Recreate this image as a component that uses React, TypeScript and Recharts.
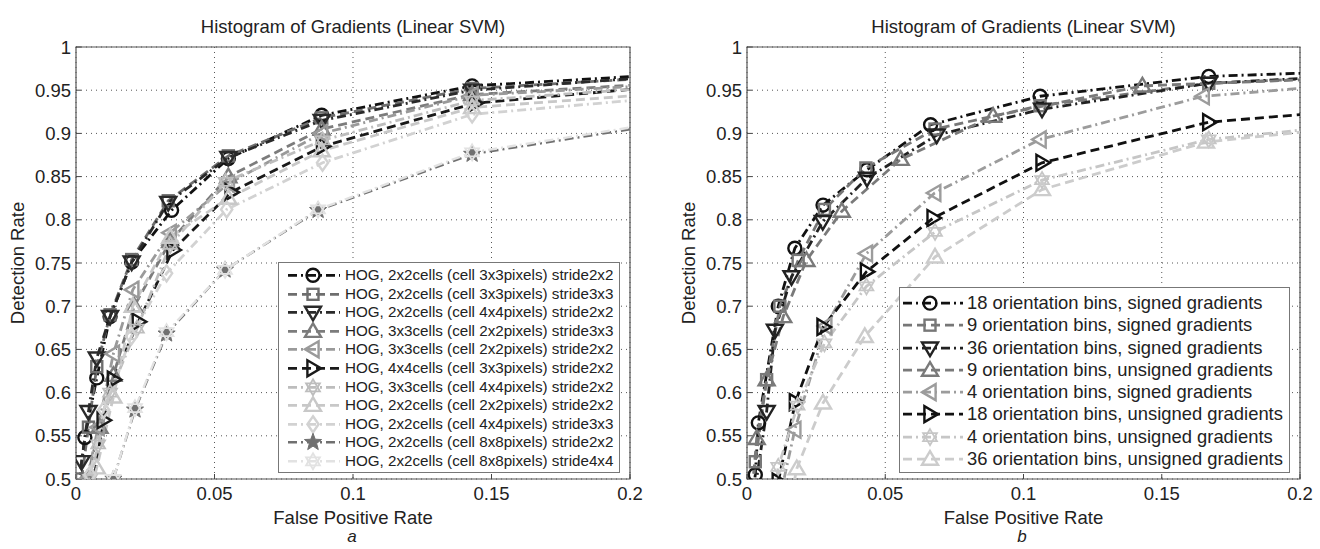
import React from 'react';
import { LineChart, Line, XAxis, YAxis, CartesianGrid, ReferenceArea, Legend } from 'recharts';

const FONT = '"Liberation Sans", Arial, Helvetica, sans-serif';

// ---- axes ----
const xTicks = [0, 0.05, 0.1, 0.15, 0.2];
const yTicks = [0.5, 0.55, 0.6, 0.65, 0.7, 0.75, 0.8, 0.85, 0.9, 0.95, 1];
const chartTitle = 'Histogram of Gradients (Linear SVM)';
const xTitle = 'False Positive Rate';
const yTitle = 'Detection Rate';

// ---- panel a: series names ----
const leftNames = [
  'HOG, 2x2cells (cell 3x3pixels) stride2x2',
  'HOG, 2x2cells (cell 3x3pixels) stride3x3',
  'HOG, 2x2cells (cell 4x4pixels) stride2x2',
  'HOG, 3x3cells (cell 2x2pixels) stride3x3',
  'HOG, 3x3cells (cell 2x2pixels) stride2x2',
  'HOG, 4x4cells (cell 3x3pixels) stride2x2',
  'HOG, 3x3cells (cell 4x4pixels) stride2x2',
  'HOG, 2x2cells (cell 2x2pixels) stride2x2',
  'HOG, 2x2cells (cell 4x4pixels) stride3x3',
  'HOG, 2x2cells (cell 8x8pixels) stride2x2',
  'HOG, 2x2cells (cell 8x8pixels) stride4x4',
];

// ---- panel a: values (false positive rate / detection rate) ----
const a1Fpr = [0.001, 0.0032, 0.0075, 0.0123, 0.0201, 0.0345, 0.055, 0.0887, 0.143, 0.25];
const a1Det = [0.49, 0.548, 0.617, 0.688, 0.751, 0.811, 0.871, 0.921, 0.955, 0.975];
const a2Fpr = [0.002, 0.0045, 0.0075, 0.0123, 0.0201, 0.0333, 0.055, 0.0887, 0.143, 0.25];
const a2Det = [0.5, 0.56, 0.63, 0.69, 0.754, 0.822, 0.874, 0.918, 0.952, 0.972];
const a3Fpr = [0.0015, 0.002, 0.0045, 0.0075, 0.0123, 0.0201, 0.0333, 0.055, 0.0887, 0.143, 0.25];
const a3Det = [0.49, 0.52, 0.578, 0.64, 0.688, 0.751, 0.82, 0.872, 0.915, 0.95, 0.975];
const a4Fpr = [0.004, 0.0085, 0.0135, 0.021, 0.034, 0.055, 0.0887, 0.143, 0.25];
const a4Det = [0.5, 0.56, 0.62, 0.7, 0.775, 0.85, 0.905, 0.945, 0.965];
const a5Fpr = [0.004, 0.008, 0.0135, 0.0205, 0.034, 0.055, 0.0887, 0.143, 0.25];
const a5Det = [0.5, 0.56, 0.645, 0.719, 0.785, 0.842, 0.9, 0.944, 0.963];
const a6Fpr = [0.006, 0.0098, 0.0135, 0.0225, 0.035, 0.056, 0.089, 0.144, 0.25];
const a6Det = [0.49, 0.568, 0.615, 0.682, 0.765, 0.832, 0.885, 0.935, 0.965];
const a7Fpr = [0.005, 0.008, 0.0123, 0.022, 0.034, 0.054, 0.089, 0.143, 0.25];
const a7Det = [0.5, 0.54, 0.6, 0.674, 0.771, 0.844, 0.892, 0.938, 0.962];
const a8Fpr = [0.0055, 0.0075, 0.0135, 0.0205, 0.034, 0.055, 0.0887, 0.143, 0.25];
const a8Det = [0.49, 0.513, 0.595, 0.7, 0.78, 0.825, 0.88, 0.93, 0.955];
const a9Fpr = [0.004, 0.005, 0.01, 0.02, 0.0327, 0.0544, 0.089, 0.143, 0.25];
const a9Det = [0.49, 0.505, 0.58, 0.665, 0.738, 0.812, 0.866, 0.922, 0.952];
const a10Fpr = [0.0125, 0.0135, 0.0213, 0.0327, 0.0538, 0.0874, 0.143, 0.25];
const a10Det = [0.48, 0.5, 0.58, 0.668, 0.742, 0.811, 0.876, 0.93];
const a11Fpr = [0.012, 0.0135, 0.0213, 0.0327, 0.0538, 0.0874, 0.143, 0.25];
const a11Det = [0.48, 0.5, 0.582, 0.67, 0.742, 0.812, 0.878, 0.932];

// ---- panel b: series names ----
const rightNames = [
  '18 orientation bins, signed gradients',
  '9 orientation bins, signed gradients',
  '36 orientation bins, signed gradients',
  '9 orientation bins, unsigned gradients',
  '4 orientation bins, signed gradients',
  '18 orientation bins, unsigned gradients',
  '4 orientation bins, unsigned gradients',
  '36 orientation bins, unsigned gradients',
];

// ---- panel b: values ----
const b1Fpr = [0.002, 0.003, 0.0041, 0.0113, 0.0173, 0.0275, 0.0434, 0.0664, 0.106, 0.167, 0.25];
const b1Det = [0.48, 0.505, 0.565, 0.7, 0.767, 0.817, 0.858, 0.91, 0.943, 0.966, 0.975];
const b2Fpr = [0.002, 0.003, 0.0071, 0.0119, 0.0185, 0.028, 0.043, 0.068, 0.106, 0.167, 0.25];
const b2Det = [0.49, 0.52, 0.615, 0.7, 0.753, 0.812, 0.86, 0.905, 0.932, 0.958, 0.97];
const b3Fpr = [0.003, 0.0071, 0.0101, 0.0161, 0.0274, 0.0434, 0.0686, 0.1067, 0.167, 0.25];
const b3Det = [0.49, 0.578, 0.672, 0.734, 0.798, 0.848, 0.898, 0.928, 0.958, 0.972];
const b4Fpr = [0.002, 0.0035, 0.0071, 0.0131, 0.0215, 0.0343, 0.0556, 0.089, 0.143, 0.25];
const b4Det = [0.49, 0.547, 0.615, 0.688, 0.753, 0.81, 0.87, 0.92, 0.955, 0.968];
const b5Fpr = [0.012, 0.0173, 0.0285, 0.0432, 0.0679, 0.106, 0.165, 0.25];
const b5Det = [0.48, 0.557, 0.677, 0.761, 0.831, 0.893, 0.943, 0.965];
const b6Fpr = [0.011, 0.0113, 0.0175, 0.0275, 0.0432, 0.0673, 0.1067, 0.167, 0.25];
const b6Det = [0.48, 0.497, 0.589, 0.676, 0.74, 0.802, 0.866, 0.913, 0.935];
const b7Fpr = [0.01, 0.0113, 0.0183, 0.028, 0.0432, 0.068, 0.1067, 0.167, 0.25];
const b7Det = [0.48, 0.514, 0.585, 0.657, 0.723, 0.786, 0.846, 0.893, 0.92];
const b8Fpr = [0.016, 0.018, 0.0275, 0.0426, 0.068, 0.1067, 0.166, 0.25];
const b8Det = [0.48, 0.512, 0.588, 0.665, 0.757, 0.835, 0.89, 0.918];

const toPoints = (xs: number[], ys: number[]) => xs.map((x, i) => ({ x, y: ys[i] }));

const leftData = [
  toPoints(a1Fpr, a1Det), toPoints(a2Fpr, a2Det), toPoints(a3Fpr, a3Det), toPoints(a4Fpr, a4Det),
  toPoints(a5Fpr, a5Det), toPoints(a6Fpr, a6Det), toPoints(a7Fpr, a7Det), toPoints(a8Fpr, a8Det),
  toPoints(a9Fpr, a9Det), toPoints(a10Fpr, a10Det), toPoints(a11Fpr, a11Det),
];
const rightData = [
  toPoints(b1Fpr, b1Det), toPoints(b2Fpr, b2Det), toPoints(b3Fpr, b3Det), toPoints(b4Fpr, b4Det),
  toPoints(b5Fpr, b5Det), toPoints(b6Fpr, b6Det), toPoints(b7Fpr, b7Det), toPoints(b8Fpr, b8Det),
];

// ---- styles ----
const DASH = '9 5';
const DASHDOT = '9 4 2 4';
type Style = { color: string; dash: string; shape: string; width: number };
const leftStyles: Style[] = [
  { color: '#111111', dash: DASHDOT, shape: 'circle', width: 2.8 },
  { color: '#6e6e6e', dash: DASH, shape: 'square', width: 2.8 },
  { color: '#2a2a2a', dash: DASHDOT, shape: 'down', width: 2.8 },
  { color: '#7c7c7c', dash: DASH, shape: 'up', width: 2.8 },
  { color: '#9a9a9a', dash: DASHDOT, shape: 'left', width: 2.8 },
  { color: '#1a1a1a', dash: DASH, shape: 'right', width: 2.8 },
  { color: '#bdbdbd', dash: DASHDOT, shape: 'hexagram', width: 2.8 },
  { color: '#c8c8c8', dash: DASH, shape: 'up', width: 2.8 },
  { color: '#d2d2d2', dash: DASHDOT, shape: 'diamond', width: 2.8 },
  { color: '#707070', dash: DASHDOT, shape: 'star', width: 2.4 },
  { color: '#e2e2e2', dash: DASHDOT, shape: 'hexagram', width: 2.4 },
];
const rightStyles: Style[] = [
  { color: '#111111', dash: DASHDOT, shape: 'circle', width: 2.8 },
  { color: '#777777', dash: DASH, shape: 'square', width: 2.8 },
  { color: '#222222', dash: DASHDOT, shape: 'down', width: 2.8 },
  { color: '#7a7a7a', dash: DASH, shape: 'up', width: 2.8 },
  { color: '#9c9c9c', dash: DASHDOT, shape: 'left', width: 2.8 },
  { color: '#111111', dash: DASH, shape: 'right', width: 2.8 },
  { color: '#c6c6c6', dash: DASHDOT, shape: 'hexagram', width: 2.8 },
  { color: '#cccccc', dash: DASH, shape: 'up', width: 2.8 },
];

function markerEl(shape: string, cx: number, cy: number, color: string) {
  const common = { fill: 'none', stroke: color, strokeWidth: 2.4, strokeLinejoin: 'miter' as const };
  const s = 8;
  const pts = (arr: number[][]) => arr.map((p) => `${p[0]},${p[1]}`).join(' ');
  switch (shape) {
    case 'circle':
      return <circle cx={cx} cy={cy} r={6.5} {...common} />;
    case 'square':
      return <rect x={cx - 5.5} y={cy - 5.5} width={11} height={11} {...common} />;
    case 'down':
      return <polygon points={pts([[cx - s, cy - s * 0.7], [cx + s, cy - s * 0.7], [cx, cy + s]])} {...common} />;
    case 'up':
      return <polygon points={pts([[cx - s, cy + s * 0.7], [cx + s, cy + s * 0.7], [cx, cy - s]])} {...common} />;
    case 'left':
      return <polygon points={pts([[cx + s * 0.7, cy - s], [cx + s * 0.7, cy + s], [cx - s, cy]])} {...common} />;
    case 'right':
      return <polygon points={pts([[cx - s * 0.7, cy - s], [cx - s * 0.7, cy + s], [cx + s, cy]])} {...common} />;
    case 'diamond':
      return <polygon points={pts([[cx, cy - s], [cx + s * 0.7, cy], [cx, cy + s], [cx - s * 0.7, cy]])} {...common} />;
    case 'hexagram': {
      const t1: number[][] = [];
      const t2: number[][] = [];
      for (let k = 0; k < 3; k++) {
        const a1 = (-90 + k * 120) * Math.PI / 180;
        const a2 = (90 + k * 120) * Math.PI / 180;
        t1.push([cx + s * Math.cos(a1), cy + s * Math.sin(a1)]);
        t2.push([cx + s * Math.cos(a2), cy + s * Math.sin(a2)]);
      }
      return (
        <g>
          <polygon points={pts(t1)} {...common} strokeWidth={1.8} />
          <polygon points={pts(t2)} {...common} strokeWidth={1.8} />
        </g>
      );
    }
    case 'star': {
      const p: number[][] = [];
      for (let k = 0; k < 10; k++) {
        const r = k % 2 === 0 ? s + 1 : 3.8;
        const a = (-90 + k * 36) * Math.PI / 180;
        p.push([cx + r * Math.cos(a), cy + r * Math.sin(a)]);
      }
      return <polygon points={pts(p)} fill={color} stroke={color} strokeWidth={1} />;
    }
    default:
      return null;
  }
}

const makeDot = (st: Style, id: string) => (p: any) => {
  const { cx, cy, payload, index } = p;
  const k = `${id}-${index}`;
  if (cx == null || cy == null || payload.x > 0.2001 || payload.y < 0.494) return <g key={k} />;
  return <g key={k}>{markerEl(st.shape, cx, cy, st.color)}</g>;
};

type LegendCfg = { w: number; h: number; pad: number; rowH: number; lx1: number; lx2: number; mx: number; textX: number; fs: number };

const makeLegend = (names: string[], styles: Style[], cfg: LegendCfg) => () => (
  <div
    style={{
      width: cfg.w, height: cfg.h, boxSizing: 'border-box', border: '1px solid #777', background: '#fff',
      paddingTop: cfg.pad, fontFamily: FONT,
    }}
  >
    {names.map((n, i) => (
      <div key={i} style={{ display: 'flex', alignItems: 'center', height: cfg.rowH, whiteSpace: 'nowrap' }}>
        <svg width={cfg.textX} height={cfg.rowH} style={{ flex: 'none', display: 'block', overflow: 'visible' }}>
          <line x1={cfg.lx1} x2={cfg.lx2} y1={cfg.rowH / 2} y2={cfg.rowH / 2} stroke={styles[i].color}
            strokeWidth={styles[i].width} strokeDasharray={styles[i].dash} />
          {markerEl(styles[i].shape, cfg.mx, cfg.rowH / 2, styles[i].color)}
        </svg>
        <span style={{ fontSize: cfg.fs, color: '#222', lineHeight: `${cfg.rowH}px` }}>{n}</span>
      </div>
    ))}
  </div>
);

const LeftLegend = makeLegend(leftNames, leftStyles, { w: 342, h: 211, pad: 3, rowH: 18.6, lx1: 9, lx2: 61, mx: 34, textX: 66, fs: 15.2 });
const RightLegend = makeLegend(rightNames, rightStyles, { w: 391, h: 186, pad: 4, rowH: 22.3, lx1: 3, lx2: 63, mx: 30, textX: 67, fs: 18.4 });

const tickStyle = { fill: '#222', fontSize: 18.5, fontFamily: FONT };
const fmt = (v: number) => String(v);
const tickLineStyle = { stroke: '#444', strokeWidth: 1 };

function Panel(props: { data: { x: number; y: number }[][]; styles: Style[]; names: string[]; left: number; right: number; legend: any; legendPos: { left: number; top: number; width: number; height: number }; id: string }) {
  const { data, styles, names, left, right, legend, legendPos, id } = props;
  return (
    <LineChart width={660} height={549} margin={{ top: 47, right, bottom: 10, left }}>
      <CartesianGrid stroke="#555" strokeDasharray="1 4" strokeWidth={1} />
      <XAxis type="number" dataKey="x" domain={[0, 0.2]} ticks={xTicks} allowDataOverflow tickFormatter={fmt}
        height={60} tick={tickStyle} tickLine={tickLineStyle} axisLine={false} tickSize={-5} tickMargin={13} interval={0} />
      <XAxis xAxisId="top" orientation="top" type="number" dataKey="x" domain={[0, 0.2]} ticks={xTicks} allowDataOverflow
        height={0} tick={false} tickLine={tickLineStyle} axisLine={false} tickSize={-5} interval={0} />
      <YAxis type="number" dataKey="y" domain={[0.5, 1]} ticks={yTicks} allowDataOverflow tickFormatter={fmt}
        width={60} tick={tickStyle} tickLine={tickLineStyle} axisLine={false} tickSize={-5} tickMargin={10} interval={0} />
      <YAxis yAxisId="right" orientation="right" type="number" dataKey="y" domain={[0.5, 1]} ticks={yTicks} allowDataOverflow
        width={0} tick={false} tickLine={tickLineStyle} axisLine={false} tickSize={-5} interval={0} />
      <ReferenceArea x1={0} x2={0.2} y1={0.5} y2={1} fill="none" fillOpacity={0} stroke="#555" strokeWidth={1.2} />
      {data.map((d, i) => (
        <Line key={i} data={d} dataKey="y" name={names[i]} type="linear" stroke={styles[i].color}
          strokeWidth={styles[i].width} strokeDasharray={styles[i].dash} dot={makeDot(styles[i], `${id}${i}`)}
          activeDot={false} isAnimationActive={false} legendType="none" />
      ))}
      <Legend content={legend} layout="horizontal" verticalAlign="middle" align="center"
        wrapperStyle={{ position: 'absolute', ...legendPos, margin: 0, padding: 0 }} />
    </LineChart>
  );
}

export default function App() {
  return (
    <div style={{ position: 'absolute', left: 0, top: 0, width: 1320, height: 549, background: '#fff', fontFamily: FONT, overflow: 'hidden' }}>
      <div style={{ position: 'absolute', left: 0, top: 0 }}>
        <Panel id="a" data={leftData} styles={leftStyles} names={leftNames} left={16} right={30} legend={LeftLegend}
          legendPos={{ left: 278, top: 262, width: 342, height: 211 }} />
      </div>
      <div style={{ position: 'absolute', left: 660, top: 0 }}>
        <Panel id="b" data={rightData} styles={rightStyles} names={rightNames} left={27} right={20} legend={RightLegend}
          legendPos={{ left: 239, top: 287, width: 391, height: 186 }} />
      </div>
      <svg width={1320} height={549} style={{ position: 'absolute', left: 0, top: 0, pointerEvents: 'none' }}
        fontFamily={FONT} fill="#222">
        <text x={353} y={33} textAnchor="middle" fontSize={18.5}>{chartTitle}</text>
        <text x={1023.5} y={33} textAnchor="middle" fontSize={18.5}>{chartTitle}</text>
        <text x={353} y={524} textAnchor="middle" fontSize={18.5}>{xTitle}</text>
        <text x={1023.5} y={524} textAnchor="middle" fontSize={18.5}>{xTitle}</text>
        <text x={23.5} y={263} textAnchor="middle" fontSize={18.5} transform="rotate(-90 23.5 263)">{yTitle}</text>
        <text x={694.5} y={263} textAnchor="middle" fontSize={18.5} transform="rotate(-90 694.5 263)">{yTitle}</text>
        <text x={352} y={542} textAnchor="middle" fontSize={17} fontStyle="italic">a</text>
        <text x={1022} y={542} textAnchor="middle" fontSize={17} fontStyle="italic">b</text>
      </svg>
    </div>
  );
}
